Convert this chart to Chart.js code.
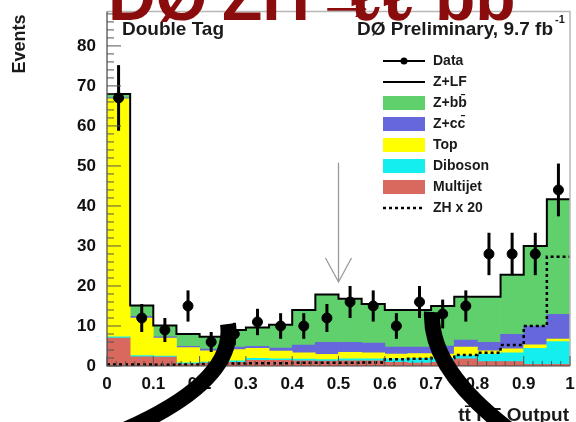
<!DOCTYPE html>
<html lang="en">
<head>
<meta charset="UTF-8" />
<title>Double Tag - tt RF Output</title>
<script src="https://cdn.jsdelivr.net/npm/chart.js"></script>
<style>
  html, body { margin: 0; padding: 0; background: #fff; }
  #wrap { width: 576px; height: 422px; position: relative; }
</style>
</head>
<body>
<div id="wrap"><canvas id="rfChart"></canvas></div>
<script>
// bin edges of the histogram (20 bins of 0.05)
const binEdges = [0, 0.05, 0.1, 0.15, 0.2, 0.25, 0.3, 0.35, 0.4, 0.45, 0.5,
                  0.55, 0.6, 0.65, 0.7, 0.75, 0.8, 0.85, 0.9, 0.95, 1];

// background components, stacked bottom -> top
const multijet = [7, 2.3, 2.2, 0.5, 0.7, 0.9, 1.4, 1.4, 1.3, 1.2, 1.3, 1.3, 0.9, 0.7, 0.9, 1.8, 1.1, 1.1, 0.4, 0.4];
const diboson  = [0.3, 0.3, 0.3, 0.3, 0.3, 0.4, 0.5, 0.4, 0.4, 0.4, 0.5, 0.5, 0.9, 1.2, 1.0, 0.8, 1.9, 2.2, 4.0, 5.7];
const topBkg   = [59.5, 9.4, 4.5, 3.8, 2.8, 2.8, 2.5, 1.9, 1.6, 1.3, 1.6, 1.5, 1.2, 1.2, 1.1, 2.1, 0.8, 1.0, 0.9, 0.6];
const zcc      = [0.2, 0.4, 0.3, 0.3, 0.4, 0.6, 0.5, 0.8, 1.9, 3.0, 2.5, 2.4, 1.7, 1.6, 2.0, 1.8, 2.1, 3.6, 4.7, 6.2];
const zbb      = [0.8, 2.5, 2.6, 2.9, 2.9, 4.1, 4.5, 5.6, 8.6, 11.8, 10.7, 9.6, 9.1, 9.1, 9.8, 10.6, 11.2, 14.7, 19.8, 28.6];
const zlf      = [0.2, 0.2, 0.2, 0.2, 0.2, 0.2, 0.2, 0.2, 0.2, 0.2, 0.2, 0.2, 0.2, 0.2, 0.2, 0.2, 0.2, 0.2, 0.2, 0.2];

// signal ZH x 20
const zhx20 = [0.4, 0.4, 0.3, 0.4, 0.5, 0.6, 0.7, 0.7, 0.8, 0.8, 0.8, 0.9, 1.7, 1.8, 2.0, 2.75, 3.3, 5.25, 10, 27.3];

// data and its errors
const dataCounts = [67, 12, 9, 15, 6, 8, 11, 10, 10, 12, 16, 15, 10, 16, 13, 15, 28, 28, 28, 44];
const dataErrors = [8.2, 3.5, 3, 3.9, 2.5, 2.8, 3.3, 3.2, 3.2, 3.5, 4, 3.9, 3.2, 4, 3.6, 3.9, 5.3, 5.3, 5.3, 6.6];

const xTickLabels = ['0', '0.1', '0.2', '0.3', '0.4', '0.5', '0.6', '0.7', '0.8', '0.9', '1'];
const yTickLabels = ['0', '10', '20', '30', '40', '50', '60', '70', '80'];
const legendLabels = ['Data', 'Z+LF', 'Z+bb\u0304', 'Z+cc\u0304', 'Top', 'Diboson', 'Multijet', 'ZH x 20'];

const FONT = '"Liberation Sans", Arial, Helvetica, sans-serif';
const colors = {
    multijet: '#d9685f',
    diboson: '#14eeee',
    top: '#ffff00',
    zcc: '#6767dc',
    zbb: '#5fd06b',
    zlf: '#ffffff'
};

const centers = binEdges.slice(0, -1).map((e, i) => (e + binEdges[i + 1]) / 2);
const toPoints = arr => arr.map((v, i) => ({ x: centers[i], y: v }));
// step outline: one point per bin edge, last one repeats last bin
const toSteps = arr => binEdges.map((e, i) => ({ x: e, y: arr[Math.min(i, arr.length - 1)] }));
const totals = multijet.map((v, i) => v + diboson[i] + topBkg[i] + zcc[i] + zbb[i] + zlf[i]);

function barSet(label, arr, color) {
    return {
        type: 'bar', label: label, data: toPoints(arr), backgroundColor: color,
        borderWidth: 0, stack: 'bkg', order: 2,
        barPercentage: 1.0, categoryPercentage: 1.0
    };
}

const decorPlugin = {
    id: 'decor',
    afterDatasetsDraw(chart) {
        const ctx = chart.ctx;
        const xs = chart.scales.x, ys = chart.scales.y;
        // error bars on data
        ctx.save();
        ctx.strokeStyle = '#000';
        ctx.lineWidth = 3;
        dataCounts.forEach((v, i) => {
            const px = xs.getPixelForValue(centers[i]);
            ctx.beginPath();
            ctx.moveTo(px, ys.getPixelForValue(v - dataErrors[i]));
            ctx.lineTo(px, ys.getPixelForValue(v + dataErrors[i]));
            ctx.stroke();
        });
        ctx.restore();
    },
    afterDraw(chart) {
        const ctx = chart.ctx;
        const xs = chart.scales.x, ys = chart.scales.y;
        const area = chart.chartArea;
        ctx.save();

        // frame
        ctx.strokeStyle = '#b8b8b8';
        ctx.lineWidth = 1.5;
        ctx.beginPath();
        ctx.moveTo(area.left, area.top);
        ctx.lineTo(area.right, area.top);
        ctx.lineTo(area.right, area.bottom);
        ctx.stroke();
        ctx.strokeStyle = '#444';
        ctx.lineWidth = 1.2;
        ctx.beginPath();
        ctx.moveTo(area.left, area.top);
        ctx.lineTo(area.left, area.bottom);
        ctx.lineTo(area.right, area.bottom);
        ctx.stroke();

        // inner tick marks
        ctx.strokeStyle = '#555';
        ctx.lineWidth = 1;
        for (let k = 0; k <= 44; k++) {
            const y = ys.getPixelForValue(k * 2);
            const len = (k % 5 === 0) ? 14 : 7;
            ctx.beginPath();
            ctx.moveTo(area.left, y);
            ctx.lineTo(area.left + len, y);
            ctx.stroke();
        }
        for (let k = 0; k <= 50; k++) {
            const x = xs.getPixelForValue(k / 50);
            const len = (k % 5 === 0) ? 10 : 5;
            ctx.beginPath();
            ctx.moveTo(x, area.bottom);
            ctx.lineTo(x, area.bottom - len);
            ctx.stroke();
        }

        // arrow at 0.5
        const ax = xs.getPixelForValue(0.5);
        const aTop = ys.getPixelForValue(50.8), aTip = ys.getPixelForValue(21);
        ctx.strokeStyle = '#9a9a9a';
        ctx.lineWidth = 1.3;
        ctx.beginPath();
        ctx.moveTo(ax, aTop);
        ctx.lineTo(ax, aTip);
        ctx.moveTo(ax - 13, aTip - 24);
        ctx.lineTo(ax, aTip);
        ctx.lineTo(ax + 13, aTip - 24);
        ctx.stroke();

        // texts inside the frame
        ctx.fillStyle = '#1a1a1a';
        ctx.textBaseline = 'alphabetic';
        ctx.font = 'bold 19px ' + FONT;
        ctx.textAlign = 'left';
        ctx.fillText('Double Tag', 122, 35);
        ctx.textAlign = 'right';
        ctx.fillText('D\u00D8 Preliminary, 9.7 fb', 553, 35);
        ctx.font = 'bold 11px ' + FONT;
        ctx.textAlign = 'left';
        ctx.fillText('-1', 555, 23);

        // legend
        const lx0 = 383, lx1 = 425, tx = 433;
        ctx.font = 'bold 14px ' + FONT;
        ctx.textBaseline = 'middle';
        const boxColors = [null, null, colors.zbb, colors.zcc, colors.top, colors.diboson, colors.multijet, null];
        legendLabels.forEach((lab, i) => {
            const y = 61 + i * 21;
            if (i === 0 || i === 1) {
                ctx.strokeStyle = '#000';
                ctx.lineWidth = 2.2;
                ctx.beginPath();
                ctx.moveTo(lx0, y);
                ctx.lineTo(lx1, y);
                ctx.stroke();
                if (i === 0) {
                    ctx.fillStyle = '#000';
                    ctx.beginPath();
                    ctx.arc((lx0 + lx1) / 2, y, 3.5, 0, Math.PI * 2);
                    ctx.fill();
                }
            } else if (i === 7) {
                ctx.strokeStyle = '#000';
                ctx.lineWidth = 2.5;
                ctx.setLineDash([3, 3]);
                ctx.beginPath();
                ctx.moveTo(lx0, y);
                ctx.lineTo(lx1, y);
                ctx.stroke();
                ctx.setLineDash([]);
            } else {
                ctx.fillStyle = boxColors[i];
                ctx.fillRect(lx0, y - 7, lx1 - lx0, 14);
            }
            ctx.fillStyle = '#1a1a1a';
            ctx.fillText(lab, tx, y);
        });

        // axis titles
        ctx.font = 'bold 18px ' + FONT;
        ctx.save();
        ctx.translate(20, 44);
        ctx.rotate(-Math.PI / 2);
        ctx.textAlign = 'center';
        ctx.textBaseline = 'middle';
        ctx.fillText('Events', 0, 0);
        ctx.restore();
        ctx.font = 'bold 19px ' + FONT;
        ctx.textAlign = 'right';
        ctx.textBaseline = 'top';
        ctx.fillText('tt\u0304 RF Output', 569, 406);

        // big red slide title, cut off at the top
        ctx.fillStyle = '#8a0c0c';
        ctx.textAlign = 'left';
        ctx.textBaseline = 'alphabetic';
        ctx.font = 'bold 66px ' + FONT;
        ctx.fillText('D\u00D8', 108, 20);
        ctx.fillText('ZH', 222, 20);
        ctx.fillText('\u2192', 314, 20);
        ctx.fillText('\u2113\u2113', 350, 20);
        ctx.fillText('bb', 435, 20);

        // thick black annotation strokes
        ctx.strokeStyle = '#000';
        ctx.lineWidth = 16;
        ctx.lineCap = 'butt';
        ctx.beginPath();
        ctx.moveTo(228, 324);
        ctx.quadraticCurveTo(236, 382, 120, 432);
        ctx.stroke();
        ctx.beginPath();
        ctx.moveTo(432, 312);
        ctx.quadraticCurveTo(429, 370, 512, 432);
        ctx.stroke();

        ctx.restore();
    }
};

new Chart(document.getElementById('rfChart'), {
    data: {
        datasets: [
            {
                type: 'line', label: 'Data', data: toPoints(dataCounts), showLine: false,
                pointRadius: 5, pointBackgroundColor: '#000', pointBorderColor: '#000', order: 0
            },
            {
                type: 'line', label: 'Total', data: toSteps(totals), stepped: 'before',
                borderColor: '#000', borderWidth: 2, pointRadius: 0, fill: false, order: 1
            },
            {
                type: 'line', label: 'ZH x 20', data: toSteps(zhx20), stepped: 'before',
                borderColor: '#000', borderWidth: 2.5, borderDash: [3, 3], pointRadius: 0, fill: false, order: 1
            },
            barSet('Multijet', multijet, colors.multijet),
            barSet('Diboson', diboson, colors.diboson),
            barSet('Top', topBkg, colors.top),
            barSet('Z+cc', zcc, colors.zcc),
            barSet('Z+bb', zbb, colors.zbb),
            barSet('Z+LF', zlf, colors.zlf)
        ]
    },
    options: {
        responsive: true,
        maintainAspectRatio: false,
        animation: false,
        layout: { padding: { top: 11.5, right: 6, left: 0, bottom: 0 } },
        plugins: {
            legend: { display: false },
            tooltip: { enabled: false }
        },
        scales: {
            x: {
                type: 'linear', min: 0, max: 1, offset: false,
                grid: { display: false, drawTicks: false, offset: false },
                border: { display: false },
                ticks: {
                    stepSize: 0.1, padding: 8, color: '#111',
                    font: { family: FONT, size: 17, weight: 'bold' },
                    maxRotation: 0,
                    callback: (v) => {
                        const k = Math.round(v * 10);
                        return Math.abs(v * 10 - k) < 1e-6 ? xTickLabels[k] : null;
                    }
                },
                afterFit: (s) => { s.height = 56; s.paddingLeft = 0; s.paddingRight = 0; }
            },
            y: {
                min: 0, max: 88.6,
                grid: { display: false, drawTicks: false },
                border: { display: false },
                ticks: {
                    stepSize: 10, padding: 11, color: '#111', includeBounds: false,
                    font: { family: FONT, size: 17, weight: 'bold' },
                    callback: (v) => (v % 10 === 0 && v / 10 < yTickLabels.length) ? yTickLabels[v / 10] : null
                },
                afterFit: (s) => { s.width = 107; s.paddingTop = 0; s.paddingBottom = 0; }
            }
        }
    },
    plugins: [decorPlugin]
});
</script>
</body>
</html>
